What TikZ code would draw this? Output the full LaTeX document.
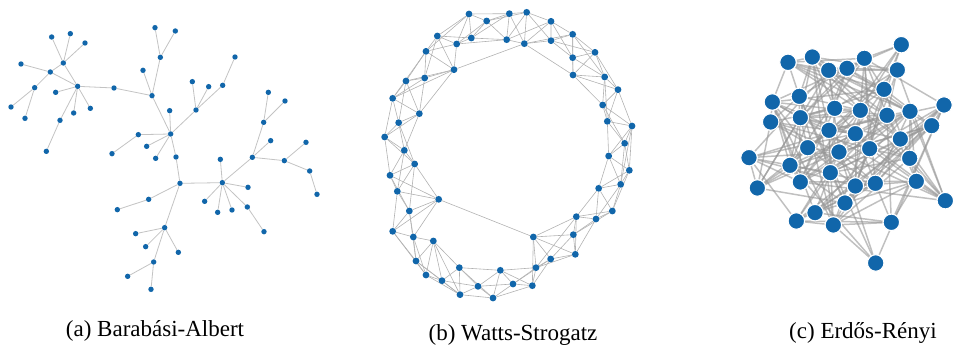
\documentclass[tikz,border=0pt]{standalone}
\usepackage{fontspec}
\setmainfont{Liberation Serif}
\pgfdeclarelayer{bg}
\pgfsetlayers{bg,main}
\definecolor{nodeblue}{RGB}{17,102,170}
\definecolor{baedge}{RGB}{195,195,195}
\definecolor{wsedge}{RGB}{178,178,178}
\definecolor{eredgec}{RGB}{150,150,150}
\tikzset{
  banode/.style={circle,fill=nodeblue,inner sep=0pt,minimum size=5.4pt},
  wsnode/.style={circle,fill=nodeblue,inner sep=0pt,minimum size=6.8pt},
  ernode/.style={circle,fill=nodeblue,draw=white,line width=1.1pt,inner sep=0pt,minimum size=16.5pt},
  baline/.style={draw=baedge,line width=0.8pt},
  wsline/.style={draw=wsedge,line width=0.6pt},
  erline/.style={draw=eredgec,line width=1.5pt,opacity=0.6},
  caption/.style={font=\fontsize{23}{26}\selectfont,anchor=base,inner sep=0pt}
}
\begin{document}
\begin{tikzpicture}[x=1pt,y=-1pt]
\useasboundingbox (0,0) rectangle (953,347);
% ---------------- (a) Barabasi-Albert ----------------
\begin{scope}[scale=1/3]
\foreach \n/\x/\y in {1/155/111,2/211/101,3/255/129,4/190/189,5/63/192,6/151/216,7/104/263,8/233/259,9/167/277,10/33/321,
11/75/355,12/221/339,13/271/325,14/180/361,15/139/454,16/342/264,17/456/287,18/465/83,19/526/93,20/481/172,
21/429/211,22/509/332,23/512/402,24/577/245,25/626/260,26/668/256,27/705/171,28/588/330,29/415/404,30/336/461,
31/440/439,32/467/475,33/528/471,34/540/550,35/446/598,36/352/629,37/494/683,38/407/701,39/437/740,40/535/757,
41/461/786,42/383/829,43/453/868,44/667/548,45/661/478,46/614/604,47/653/637,48/696/630,49/744/562,50/742/621,
51/792/695,52/757/472,53/791/367,54/805/277,55/855/303,56/812/422,57/853/482,58/918/427,59/929/513,60/951/583}
  \node[banode] (b\n) at (\x,\y) {};
\begin{pgfonlayer}{bg}
\foreach \a/\b in {1/4,2/4,3/4,4/6,4/8,5/6,6/8,6/7,7/10,7/11,8/9,8/12,8/13,8/14,14/15,8/16,16/17,
17/20,20/18,20/19,17/21,17/23,23/22,23/28,28/24,28/25,28/26,26/27,23/29,29/30,23/31,23/32,23/33,33/34,
34/35,35/36,34/37,37/38,37/39,37/40,37/41,41/42,41/43,34/44,44/45,44/46,44/47,44/48,44/49,44/50,50/51,
44/52,52/53,53/54,53/55,52/56,52/57,57/58,57/59,59/60}
  \draw[baline] (b\a) -- (b\b);
\end{pgfonlayer}
\end{scope}
% ---------------- (b) Watts-Strogatz ----------------
\begin{scope}[shift={(370,0)},scale=1/3]
\foreach \n/\x/\y in {1/202/108,2/260/132,3/297/42,4/304/114,5/350/63,6/418/41,7/410/119,8/470/37,9/463/131,10/543/64,
11/543/122,12/608/103,13/608/173,14/675/157,15/609/225,16/704/231,17/744/269,18/698/315,19/712/364,20/786/378,
21/764/430,22/716/468,23/778/511,24/752/553,25/686/565,26/727/633,27/678/657,28/619/650,29/610/704,30/616/763,
31/490/711,32/542/777,33/498/803,34/487/857,35/429/852,36/391/811,37/369/894,38/324/859,39/268/803,40/270/884,
41/216/842,42/190/723,43/168/825,44/138/783,45/130/711,46/68/694,47/118/633,48/206/598,49/82/574,50/60/526,
51/134/492,52/103/451,53/44/411,54/86/368,55/148/341,56/68/295,57/108/243,58/164/234,59/252/209,60/168/154}
  \node[wsnode] (w\n) at (\x,\y) {};
\begin{pgfonlayer}{bg}
\foreach \i in {1,...,60}{
  \foreach \k in {1,2,3}{
    \pgfmathtruncatemacro\j{mod(\i+\k-1,60)+1}
    \draw[wsline] (w\i) -- (w\j);
  }
}
\foreach \a/\b in {59/9,9/15,48/31,55/59,2/7,12/16,20/24,28/33,40/44,47/51,56/60}
  \draw[wsline] (w\a) -- (w\b);
\end{pgfonlayer}
\end{scope}
% ---------------- (c) Erdos-Renyi ----------------
\def\ERX{{544,204,277,433,326,381,532,492,238,157,672,344,421,501,570,152,241,635,327,406,541,263,357,449,87,210,569,331,112,241,406,466,589,676,375,285,229,340,514,467}}
\def\ERY{{74,127,111,115,151,145,150,208,229,246,255,265,271,286,274,306,293,317,331,341,357,383,396,386,413,436,415,458,504,486,498,490,484,542,549,578,603,615,607,729}}
\begin{scope}[shift={(720,20)},scale=1/3]
\foreach \n in {0,...,39}{
  \pgfmathsetmacro\xx{\ERX[\n]}
  \pgfmathsetmacro\yy{\ERY[\n]}
  \node[ernode] (e\n) at (\xx,\yy) {};
}
\begin{pgfonlayer}{bg}
\pgfmathsetseed{11}
\foreach \i in {0,...,38}{
  \pgfmathtruncatemacro\jj{\i+1}
  \foreach \j in {\jj,...,39}{
    \pgfmathsetmacro\dd{veclen(\ERX[\i]-\ERX[\j],\ERY[\i]-\ERY[\j])}
    \pgfmathsetmacro\pp{0.7*exp(-\dd/260)}
    \pgfmathsetmacro\rr{rnd}
    \pgfmathtruncatemacro\ok{\rr<\pp ? 1 : 0}
    \ifnum\ok=1 \draw[erline] (e\i) -- (e\j); \fi
  }
}
\end{pgfonlayer}
\end{scope}
% ---------------- captions ----------------
\node[caption] (capa) at (155,336) {(a) Barabási-Albert};
\node[caption] (capb) at (513,341) {(b) Watts-Strogatz};
\node[caption] (capc) at (863,338) {(c) Erdős-Rényi};
\end{tikzpicture}
\end{document}
